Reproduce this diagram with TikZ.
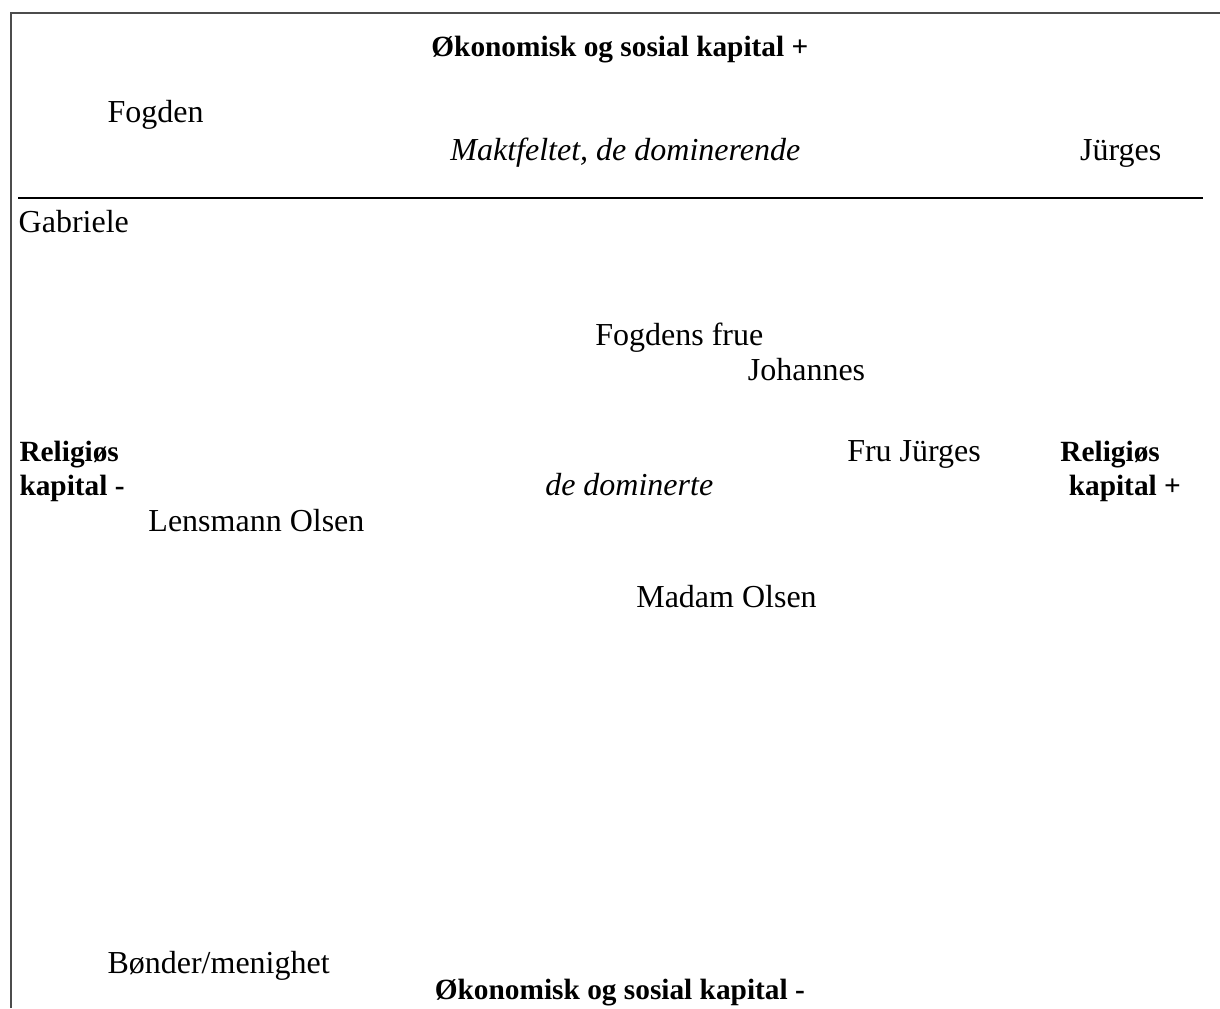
\documentclass[tikz,border=0pt]{standalone}
\usepackage{fontspec}
\setmainfont{Liberation Serif}
\usepackage{tikz}
\usetikzlibrary{positioning}

\begin{document}
\begin{tikzpicture}[
            txt/.style={anchor=base west, inner sep=0pt, font=\fontsize{12}{14}\selectfont},
            head/.style={inner sep=0pt, font=\fontsize{11}{13}\selectfont\bfseries},
            frame/.style={draw=black!70, line width=0.5pt}]
            \useasboundingbox (0, 0) rectangle (16.08, -13.286);
            \coordinate (cornerbl) at (0.145, -13.286);
            \coordinate (cornertl) at (0.145, -0.171);
            \coordinate (cornertr) at (16.08, -0.171);
            \draw[frame] (cornerbl) -- (cornertl) -- (cornertr);

            \node[head, anchor=base] (okoplus) at (8.17, -0.74) {Økonomisk og sosial kapital +};
            \node[txt] (fogden) at (1.41, -1.62) {Fogden};
            \node[txt, font=\fontsize{12}{14}\selectfont\itshape] (maktfelt) at (5.93, -2.11) {Maktfeltet, de dominerende};
            \node[txt] (jurges) at (14.23, -2.11) {Jürges};

            \coordinate (lineleft) at (0.24, -2.61);
            \coordinate (lineright) at (15.86, -2.61);
            \draw[black, line width=0.8pt] (lineleft) -- (lineright);

            \node[txt] (gabriele) at (0.24, -3.06) {Gabriele};
            \node[txt] (fogdensfrue) at (7.84, -4.55) {Fogdens frue};
            \node[txt] (johannes) at (9.85, -5.01) {Johannes};

            \node[head, anchor=base west] (relminus) at (0.25, -6.08) {Religiøs};
            \node[head, anchor=base west] (kapminus) at (0.25, -6.53) {kapital -};
            \node[txt] (frujurges) at (11.16, -6.08) {Fru Jürges};
            \node[head, anchor=base west] (relplus) at (13.97, -6.08) {Religiøs};
            \node[head, anchor=base west] (kapplus) at (14.08, -6.53) {kapital +};
            \node[txt, font=\fontsize{12}{14}\selectfont\itshape] (dominerte) at (7.18, -6.53) {de dominerte};
            \node[txt] (lensmann) at (1.95, -7.00) {Lensmann Olsen};
            \node[txt] (madam) at (8.38, -8.01) {Madam Olsen};

            \node[txt] (bonder) at (1.41, -12.83) {Bønder/menighet};
            \node[head, anchor=base] (okominus) at (8.17, -13.18) {Økonomisk og sosial kapital -};
        \end{tikzpicture}
\end{document}
